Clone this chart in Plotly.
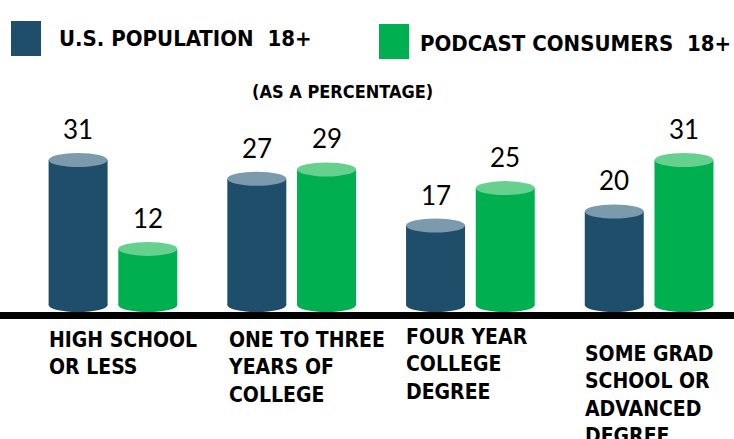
import plotly.graph_objects as go

# data
categories = ["HIGH SCHOOL<br>OR LESS", "ONE TO THREE<br>YEARS OF<br>COLLEGE",
              "FOUR YEAR<br>COLLEGE<br>DEGREE", "SOME GRAD<br>SCHOOL OR<br>ADVANCED<br>DEGREE"]
us_pop = [31, 27, 17, 20]
podcast = [12, 29, 25, 31]
series_names = ["U.S. POPULATION  18+", "PODCAST CONSUMERS  18+"]

BLUE, BLUE_TOP = "#1f4e6b", "#7b9aac"
GREEN, GREEN_TOP = "#00b050", "#66d08f"
NARROW = "DejaVu Sans Condensed, Liberation Sans Narrow, sans-serif"
NUMFONT = "Lato, Open Sans, sans-serif"

W, H = 734, 439
T, B = 118, 120
PH = H - T - B
BW = 0.33
OFFS = [-0.36, 0.03]


def px(x):
    return x / W


def py(y):
    return (H - B - y) / PH


fig = go.Figure()
shapes, annos = [], []
xs = list(range(len(categories)))
for vals, off, col, top in [(us_pop, OFFS[0], BLUE, BLUE_TOP), (podcast, OFFS[1], GREEN, GREEN_TOP)]:
    fig.add_trace(go.Bar(x=xs, y=vals, offset=off, width=BW, marker=dict(color=col, line_width=0),
                         showlegend=False, hoverinfo="y"))
    for i, v in zip(xs, vals):
        # bottom and top ellipses of the cylinder
        shapes.append(dict(type="circle", xref="x", yref="y", ysizemode="pixel", yanchor=0,
                           x0=i + off, x1=i + off + BW, y0=-7, y1=7,
                           fillcolor=col, line_width=0))
        shapes.append(dict(type="circle", xref="x", yref="y", ysizemode="pixel", yanchor=v,
                           x0=i + off, x1=i + off + BW, y0=-7, y1=7,
                           fillcolor=top, line_width=0))
        annos.append(dict(x=i + off + BW / 2, y=v, yshift=13, text=str(v), showarrow=False,
                          xanchor="center", yanchor="bottom",
                          font=dict(family=NUMFONT, size=26, color="black")))

# baseline
shapes.append(dict(type="rect", xref="paper", yref="y", ysizemode="pixel", yanchor=0,
                   x0=0, x1=1, y0=-14, y1=-7, fillcolor="black", line_width=0))

# category labels
label_dy = [0, 0, -3, 14]
for i, c in enumerate(categories):
    annos.append(dict(x=i - 0.37, y=py(326 + label_dy[i]), yref="paper", text="<b>" + c + "</b>",
                      showarrow=False, xanchor="left", yanchor="top", align="left",
                      font=dict(family=NARROW, size=21, color="black")))

# legend
shapes.append(dict(type="rect", xref="paper", yref="paper", x0=px(11), x1=px(41), y0=py(21), y1=py(56),
                   fillcolor=BLUE, line_width=0))
shapes.append(dict(type="rect", xref="paper", yref="paper", x0=px(379), x1=px(409), y0=py(24), y1=py(59),
                   fillcolor=GREEN, line_width=0))
annos.append(dict(x=px(57), y=py(39), xref="paper", yref="paper", text="<b>" + series_names[0] + "</b>",
                  showarrow=False, xanchor="left", yanchor="middle",
                  font=dict(family=NARROW, size=22, color="black")))
annos.append(dict(x=px(418), y=py(44), xref="paper", yref="paper", text="<b>" + series_names[1] + "</b>",
                  showarrow=False, xanchor="left", yanchor="middle",
                  font=dict(family=NARROW, size=22, color="black")))
annos.append(dict(x=px(342), y=py(92), xref="paper", yref="paper", text="<b>(AS A PERCENTAGE)</b>",
                  showarrow=False, xanchor="center", yanchor="middle",
                  font=dict(family=NARROW, size=18, color="black")))

fig.update_layout(
    width=W, height=H, margin=dict(l=0, r=0, t=T, b=B),
    plot_bgcolor="white", paper_bgcolor="white",
    barmode="overlay", shapes=shapes, annotations=annos, showlegend=False,
    xaxis=dict(range=[-0.632, 3.475], visible=False, fixedrange=True),
    yaxis=dict(range=[-3, 40], visible=False, fixedrange=True),
)
fig.write_html("out.html", config={"displayModeBar": False},
               post_script="document.body.style.margin='0';")
